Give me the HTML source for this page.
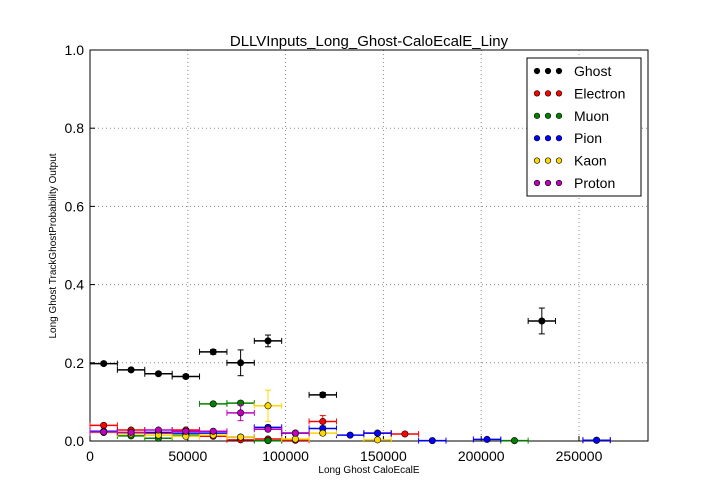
<!DOCTYPE html>
<html><head><meta charset="utf-8"><style>
body{margin:0;background:#fff;font-family:"Liberation Sans",sans-serif}
svg{display:block}
</style></head><body>
<svg id="chart" width="720" height="504" xmlns="http://www.w3.org/2000/svg" font-family="Liberation Sans, sans-serif"></svg>
<script>
const xTicks=[0,50000,100000,150000,200000,250000];
const xTickLabels=["0","50000","100000","150000","200000","250000"];
const yTicks=[0,0.2,0.4,0.6,0.8,1.0];
const yTickLabels=["0.0","0.2","0.4","0.6","0.8","1.0"];
const binHalf=7000;
const seriesNames=["Ghost","Electron","Muon","Pion","Kaon","Proton"];
const seriesColors=["#000000","#ff0000","#008000","#0000ff","#ffd700","#bf00bf"];
const ghostX=[7000,21000,35000,49000,63000,77000,91000,105000,119000,231000];
const ghostY=[0.198,0.182,0.172,0.165,0.228,0.200,0.256,0.020,0.118,0.307];
const ghostE=[0.004,0.004,0.004,0.005,0.006,0.033,0.015,0.005,0.006,0.033];
const electronX=[7000,21000,35000,49000,63000,77000,91000,105000,119000,147000,161000,259000];
const electronY=[0.040,0.028,0.020,0.028,0.012,0.003,0.005,0.002,0.050,0.020,0.018,0.002];
const electronE=[0.004,0.004,0.003,0.004,0.003,0.002,0.003,0.002,0.015,0.005,0.004,0.002];
const muonX=[7000,21000,35000,49000,63000,77000,91000,217000];
const muonY=[0.022,0.013,0.007,0.015,0.095,0.097,0.001,0.001];
const muonE=[0.003,0.003,0.002,0.003,0.004,0.005,0.001,0.001];
const pionX=[7000,21000,35000,49000,63000,77000,91000,105000,119000,133000,147000,175000,203000,259000];
const pionY=[0.025,0.020,0.022,0.020,0.020,0.010,0.035,0.020,0.032,0.015,0.020,0.001,0.004,0.002];
const pionE=[0.003,0.003,0.003,0.003,0.003,0.003,0.005,0.003,0.006,0.003,0.004,0.001,0.002,0.002];
const kaonX=[7000,21000,35000,49000,63000,77000,91000,105000,119000,147000];
const kaonY=[0.022,0.018,0.015,0.012,0.015,0.010,0.090,0.005,0.020,0.003];
const kaonE=[0.003,0.003,0.003,0.003,0.003,0.003,0.040,0.003,0.005,0.002];
const protonX=[7000,21000,35000,49000,63000,77000,91000,105000];
const protonY=[0.023,0.022,0.028,0.025,0.025,0.072,0.030,0.020];
const protonE=[0.003,0.003,0.003,0.003,0.003,0.020,0.004,0.003];
const allX=[ghostX,electronX,muonX,pionX,kaonX,protonX];
const allY=[ghostY,electronY,muonY,pionY,kaonY,protonY];
const allE=[ghostE,electronE,muonE,pionE,kaonE,protonE];

const L=90,R=648,T=50,B=441;
const sx=v=>L+v*(579-90)/250000;
const sy=v=>B-v*(B-T);
const svg=document.getElementById('chart');
const NS="http://www.w3.org/2000/svg";
function mk(tag,attrs,parent){const e=document.createElementNS(NS,tag);for(const k in attrs)e.setAttribute(k,attrs[k]);(parent||svg).appendChild(e);return e;}

// grid
xTicks.forEach((t,i)=>{
  if(i>0){const g=mk('line',{x1:sx(t),x2:sx(t),y1:T,y2:B,stroke:'#888','stroke-dasharray':'1,3'});
  
  }
  const tk=mk('line',{x1:sx(t),x2:sx(t),y1:B,y2:B-5,stroke:'#000'});
  
  
  const lb=mk('text',{x:sx(t),y:B+20,'text-anchor':'middle','font-size':'14'});
  lb.textContent=xTickLabels[i];
  
  
});
yTicks.forEach((t,i)=>{
  if(i>0&&i<yTicks.length-1){const g=mk('line',{x1:L,x2:R,y1:sy(t),y2:sy(t),stroke:'#888','stroke-dasharray':'1,3'});
  
  }
  const tk=mk('line',{x1:L,x2:L+5,y1:sy(t),y2:sy(t),stroke:'#000'});
  
  
  const lb=mk('text',{x:L-6,y:sy(t)+5,'text-anchor':'end','font-size':'14'});
  lb.textContent=yTickLabels[i];
  
  
});
const frame=mk('rect',{x:L,y:T,width:R-L,height:B-T,fill:'none',stroke:'#000'});



// series
allX.forEach((xs,s)=>{
  const g=mk('g',{});
  
  
  const c=seriesColors[s];
  xs.forEach((x,i)=>{
    const y=allY[s][i],e=allE[s][i];
    mk('line',{x1:sx(x-binHalf),x2:sx(x+binHalf),y1:sy(y),y2:sy(y),stroke:c,'stroke-width':1.5},g);
    mk('line',{x1:sx(x-binHalf),x2:sx(x-binHalf),y1:sy(y)-3,y2:sy(y)+3,stroke:c},g);
    mk('line',{x1:sx(x+binHalf),x2:sx(x+binHalf),y1:sy(y)-3,y2:sy(y)+3,stroke:c},g);
    mk('line',{x1:sx(x),x2:sx(x),y1:sy(y+e),y2:sy(y-e),stroke:c},g);
    mk('line',{x1:sx(x)-3,x2:sx(x)+3,y1:sy(y+e),y2:sy(y+e),stroke:c},g);
    mk('line',{x1:sx(x)-3,x2:sx(x)+3,y1:sy(y-e),y2:sy(y-e),stroke:c},g);
    const p=mk('circle',{cx:sx(x),cy:sy(y),r:3.2,fill:c,stroke:'#000','stroke-width':0.6},g);
    
    
  });
});

// title and labels
const ti=mk('text',{x:369,y:46,'text-anchor':'middle','font-size':'15'});
ti.textContent='DLLVInputs_Long_Ghost-CaloEcalE_Liny';


const xl=mk('text',{x:369,y:473,'text-anchor':'middle','font-size':'10'});
xl.textContent='Long Ghost CaloEcalE';


const yl=mk('text',{x:0,y:0,'text-anchor':'middle','font-size':'10',transform:'translate(56,246) rotate(-90)'});
yl.textContent='Long Ghost TrackGhostProbability Output';



// legend
const lg=mk('g',{});


mk('rect',{x:527,y:58,width:114,height:138,fill:'#fff',stroke:'#000'},lg);
seriesNames.forEach((n,i)=>{
  const y=71+i*22.4;
  const e=mk('g',{},lg);
  
  
  [537,548,559].forEach(cx=>mk('circle',{cx:cx,cy:y,r:2.8,fill:seriesColors[i],stroke:'#000','stroke-width':0.6},e));
  const t=mk('text',{x:574,y:y+5,'font-size':'14'},e);
  t.textContent=n;
});
</script>
</body></html>
